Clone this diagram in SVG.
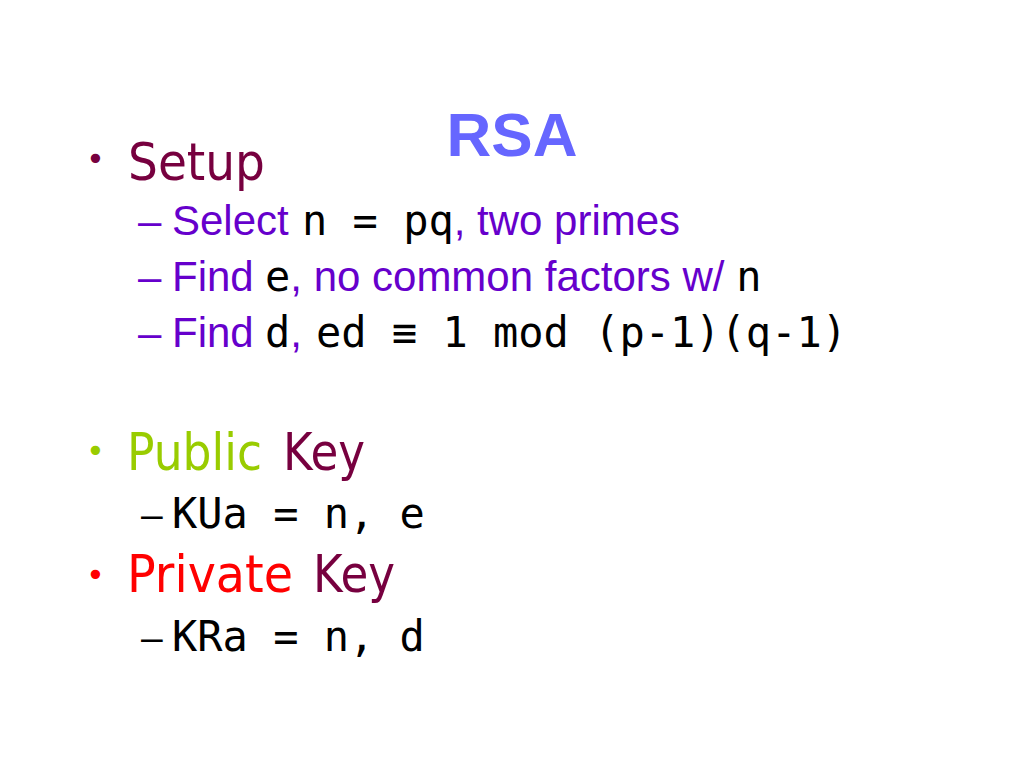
<svg xmlns="http://www.w3.org/2000/svg" width="1024" height="768" viewBox="0 0 1024 768">
<style>
.h{font-family:"DejaVu Sans","Noto Sans",sans-serif;font-size:52px}
.b{font-family:"DejaVu Sans","Noto Sans",sans-serif;font-size:32px}
.s{font-family:"Liberation Sans",Arial,sans-serif;font-size:42px;fill:#6600cc}
.m{font-family:"DejaVu Sans Mono","Liberation Mono",monospace;font-size:42px;fill:#000}
.d{font-family:"DejaVu Sans Mono","Liberation Mono",monospace;font-size:36px;fill:#000}
.mar{fill:#77003f}
</style>
<rect width="1024" height="768" fill="#fff"/>
<text x="512" y="156" text-anchor="middle" font-family="Liberation Sans,Arial,sans-serif" font-weight="bold" font-size="62" fill="#6666ff">RSA</text>
<g id="setup">
<text x="86" y="170" class="b mar">•</text>
<text x="128" y="180" class="h mar" textLength="137" lengthAdjust="spacingAndGlyphs">Setup</text>
<text x="138" y="235" class="s">–<tspan x="172">Select</tspan><tspan x="302" class="m">n = pq</tspan><tspan>, two primes</tspan></text>
<text x="138" y="291" class="s">–<tspan x="172">Find</tspan><tspan x="265" class="m">e</tspan><tspan>, no common factors w/ </tspan><tspan class="m">n</tspan></text>
<text x="138" y="347" class="s">–<tspan x="172">Find</tspan><tspan x="265" class="m">d</tspan><tspan>, </tspan><tspan x="316" class="m">ed ≡ 1 mod (p-1)(q-1)</tspan></text>
</g>
<g id="public">
<text x="86" y="462" class="b" fill="#99cc00">•</text>
<text x="127" y="470" class="h" fill="#99cc00" textLength="135" lengthAdjust="spacingAndGlyphs">Public</text>
<text x="283" y="470" class="h mar" textLength="82" lengthAdjust="spacingAndGlyphs">Key</text>
<text x="141" y="528" class="d">–</text>
<text x="172" y="528" class="m">KUa = n, e</text>
</g>
<g id="private">
<text x="86" y="586" class="b" fill="#ff0000">•</text>
<text x="127" y="592" class="h" fill="#ff0000" textLength="166" lengthAdjust="spacingAndGlyphs">Private</text>
<text x="313" y="592" class="h mar" textLength="82" lengthAdjust="spacingAndGlyphs">Key</text>
<text x="141" y="651" class="d">–</text>
<text x="172" y="651" class="m">KRa = n, d</text>
</g>
</svg>
